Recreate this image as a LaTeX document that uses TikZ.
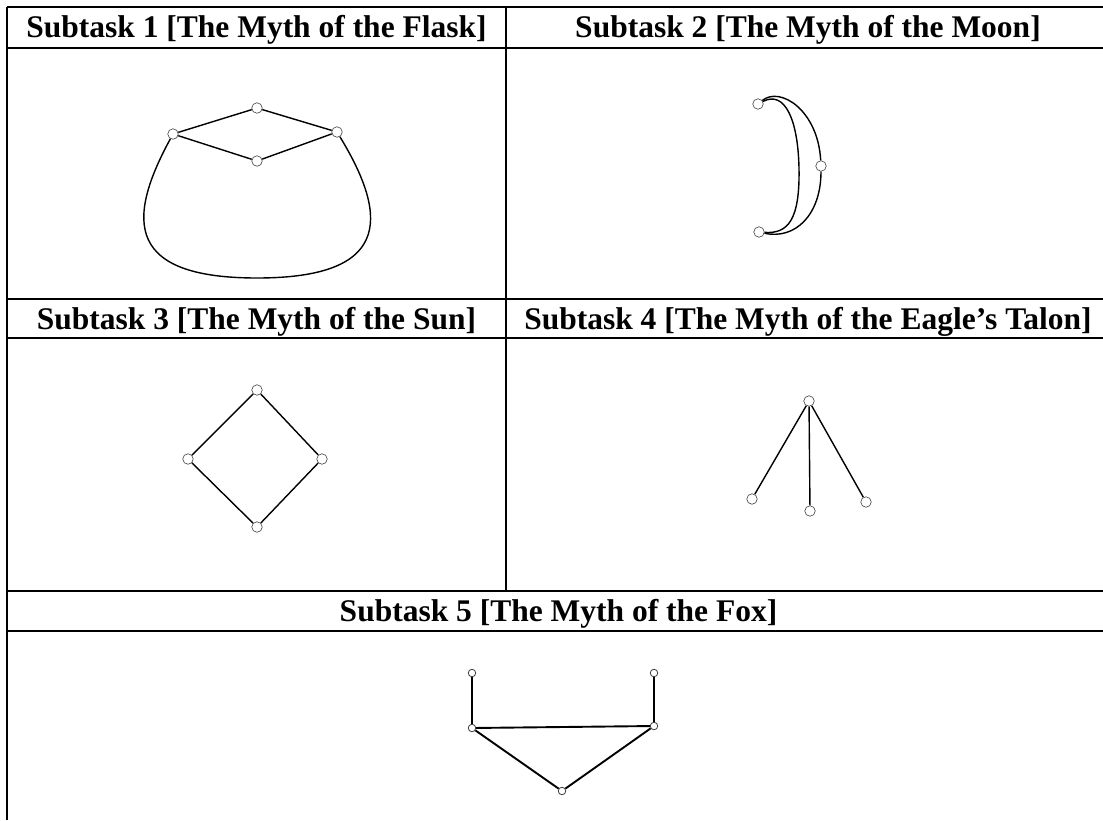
\documentclass[tikz,border=0pt]{standalone}
\usepackage{fontspec}
\setmainfont{Liberation Serif}
\begin{document}
\begin{tikzpicture}[x=1pt,y=-1pt,
  vtx/.style={circle,draw=black!75,fill=white,line width=0.6pt,minimum size=10.5pt,inner sep=0pt},
  svtx/.style={vtx,minimum size=7.5pt,line width=0.8pt},
  edge/.style={line width=1.4pt},
  fedge/.style={line width=1.9pt},
  grid/.style={line width=1.3pt},
  hdr/.style={anchor=base,font=\fontsize{31.5}{36}\selectfont\bfseries,inner sep=0pt}]
\useasboundingbox (0,0) rectangle (1103,820);
\clip (0,0) rectangle (1103,820);
% table
\foreach \yy in {7,48,299,338,591,631} \draw[grid] (7,\yy) -- (1110,\yy);
\draw[grid] (7,7) -- (7,820);
\draw[grid] (506,7) -- (506,591);
\draw[grid] (1110,7) -- (1110,820);
% headers
\node[hdr] (h1) at (256.5,37) {Subtask 1 [The Myth of the Flask]};
\node[hdr] (h2) at (808,37) {Subtask 2 [The Myth of the Moon]};
\node[hdr] (h3) at (256.5,329) {Subtask 3 [The Myth of the Sun]};
\node[hdr] (h4) at (808,329) {Subtask 4 [The Myth of the Eagle’s Talon]};
\node[hdr] (h5) at (558.5,621) {Subtask 5 [The Myth of the Fox]};
% flask
\node[vtx] (f1) at (173,134) {};
\node[vtx] (f2) at (257,108) {};
\node[vtx] (f3) at (337,132) {};
\node[vtx] (f4) at (257,161) {};
\draw[edge] (f1) -- (f2) (f2) -- (f3) (f1) -- (f4) (f4) -- (f3);
\coordinate (fb) at (257,278);
\draw[edge] (f1) .. controls (125,222) and (128,278) .. (fb)
             .. controls (386,278) and (392,222) .. (f3);
% moon
\node[vtx] (m1) at (758,104) {};
\node[vtx] (m2) at (821,166) {};
\node[vtx] (m3) at (759,232) {};
\draw[edge] (m1) .. controls (780,86) and (818,110) .. (m2);
\draw[edge] (m2) .. controls (821,215) and (795,240) .. (m3);
\coordinate (mi) at (799,168);
\draw[edge] (m1) .. controls (785,90) and (798,120) .. (mi)
             .. controls (800,220) and (788,234) .. (m3);
% sun
\node[vtx] (s1) at (257,390) {};
\node[vtx] (s2) at (188,459) {};
\node[vtx] (s3) at (322,459) {};
\node[vtx] (s4) at (257,527) {};
\draw[edge] (s1) -- (s2) (s2) -- (s4) (s4) -- (s3) (s3) -- (s1);
% eagle
\node[vtx] (e1) at (809,401) {};
\node[vtx] (e2) at (752,499) {};
\node[vtx] (e3) at (810,511) {};
\node[vtx] (e4) at (866,502) {};
\draw[edge] (e1) -- (e2) (e1) -- (e3) (e1) -- (e4);
% fox
\node[svtx] (x1) at (472,673) {};
\node[svtx] (x2) at (654,673) {};
\node[svtx] (x3) at (472,728) {};
\node[svtx] (x4) at (654,726) {};
\node[svtx] (x5) at (562,791) {};
\draw[fedge] (x1) -- (x3) (x2) -- (x4) (x3) -- (x4) (x3) -- (x5) (x4) -- (x5);
\end{tikzpicture}
\end{document}
